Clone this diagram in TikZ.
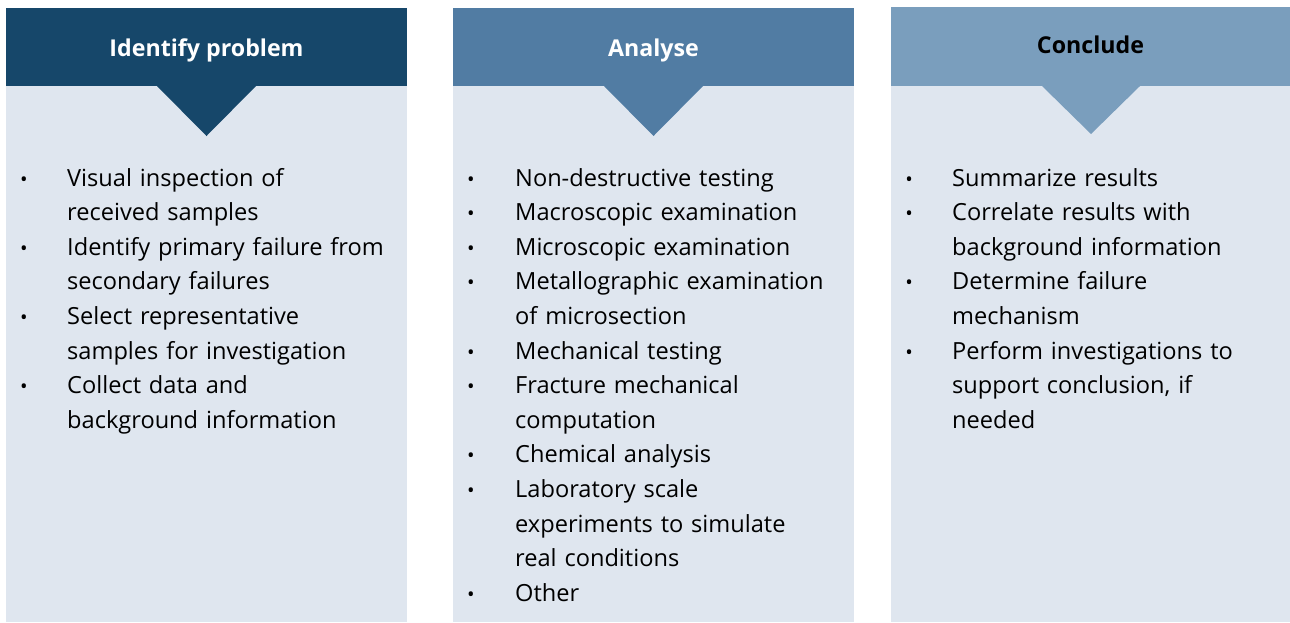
\documentclass[tikz,border=0pt]{standalone}
\usepackage{fontspec}
\setmainfont{Open Sans}
\usetikzlibrary{positioning}
\definecolor{darkblue}{HTML}{16476A}
\definecolor{midblue}{HTML}{517CA3}
\definecolor{lightblue}{HTML}{7A9EBD}
\definecolor{paleblue}{HTML}{DFE6EF}

\begin{document}
\begin{tikzpicture}[x=1pt, y=-1pt,
    panel/.style={fill=paleblue, draw=none},
    head/.style={font=\fontsize{23.2}{26}\selectfont\bfseries, inner sep=0pt, anchor=base},
    item/.style={font=\fontsize{23.6}{34.6}\selectfont, text width=360pt, align=left,
                 inner sep=0pt, anchor=base west},
    bullet/.style={font=\fontsize{20}{22}\selectfont, inner sep=0pt, anchor=base}]

      \useasboundingbox (0, 0) rectangle (1290, 622);

      % three columns
      \fill[panel] (6, 86) rectangle (407, 622);
      \fill[panel] (453, 86) rectangle (854, 622);
      \fill[panel] (891, 86) rectangle (1290, 622);

      \fill[darkblue] (6, 8) rectangle (407, 86);
      \fill[darkblue] (157, 86) -- (256, 86) -- (206.5, 136) -- cycle;
      \fill[midblue] (453, 8) rectangle (854, 86);
      \fill[midblue] (604, 86) -- (703, 86) -- (653.5, 136) -- cycle;
      \fill[lightblue] (891, 7) rectangle (1290, 86);
      \fill[lightblue] (1042, 86) -- (1140, 86) -- (1091, 134) -- cycle;

      \node[head, text=white] (identify) at (206.5, 56.5) {Identify problem};
      \node[head, text=white] (analyse) at (653.5, 56.5) {Analyse};
      \node[head, text=black] (conclude) at (1090.5, 53) {Conclude};

      % identify problem
      \node[bullet] (ia) at (24, 186) {•};
      \node[item] (ta) at (67, 186) {Visual inspection of\\received samples};
      \node[bullet] (ib) at (24, 255.2) {•};
      \node[item] (tb) at (67, 255.2) {Identify primary failure from\\secondary failures};
      \node[bullet] (ic) at (24, 324.4) {•};
      \node[item] (tc) at (67, 324.4) {Select representative\\samples for investigation};
      \node[bullet] (id) at (24, 393.6) {•};
      \node[item] (td) at (67, 393.6) {Collect data and\\background information};

      % analyse
      \node[bullet] (aa) at (471, 186) {•};
      \node[item] (sa) at (515, 186) {Non-destructive testing};
      \node[bullet] (ab) at (471, 220.6) {•};
      \node[item] (sb) at (515, 220.6) {Macroscopic examination};
      \node[bullet] (ac) at (471, 255.2) {•};
      \node[item] (sc) at (515, 255.2) {Microscopic examination};
      \node[bullet] (ad) at (471, 289.8) {•};
      \node[item] (sd) at (515, 289.8) {Metallographic examination\\of microsection};
      \node[bullet] (ae) at (471, 359) {•};
      \node[item] (se) at (515, 359) {Mechanical testing};
      \node[bullet] (af) at (471, 393.6) {•};
      \node[item] (sf) at (515, 393.6) {Fracture mechanical\\computation};
      \node[bullet] (ag) at (471, 462.8) {•};
      \node[item] (sg) at (515, 462.8) {Chemical analysis};
      \node[bullet] (ah) at (471, 497.4) {•};
      \node[item] (sh) at (515, 497.4) {Laboratory scale\\experiments to simulate\\real conditions};
      \node[bullet] (ai) at (471, 601.2) {•};
      \node[item] (si) at (515, 601.2) {Other};

      % conclude
      \node[bullet] (ca) at (909, 186) {•};
      \node[item] (ua) at (952, 186) {Summarize results};
      \node[bullet] (cb) at (909, 220.6) {•};
      \node[item] (ub) at (952, 220.6) {Correlate results with\\background information};
      \node[bullet] (cc) at (909, 289.8) {•};
      \node[item] (uc) at (952, 289.8) {Determine failure\\mechanism};
      \node[bullet] (cd) at (909, 359) {•};
      \node[item] (ud) at (952, 359) {Perform investigations to\\support conclusion, if\\needed};

    \end{tikzpicture}
\end{document}
